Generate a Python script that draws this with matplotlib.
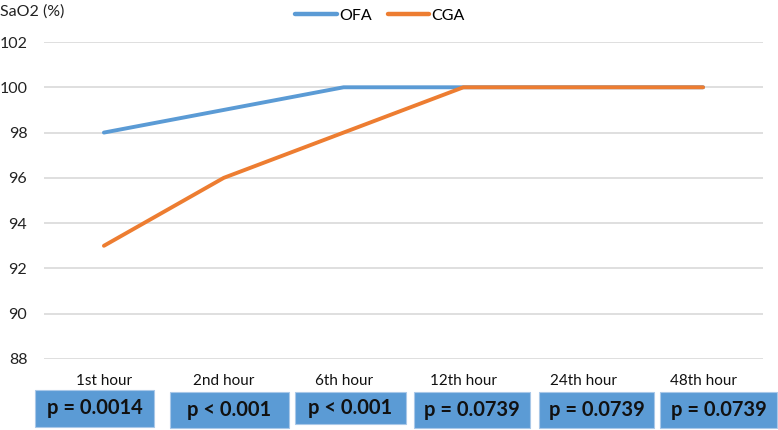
import matplotlib
matplotlib.use("Agg")
import matplotlib.pyplot as plt
from matplotlib.patches import Rectangle

categories = ["1st hour", "2nd hour", "6th hour", "12th hour", "24th hour", "48th hour"]
ofa = [98, 99, 100, 100, 100, 100]
cga = [93, 96, 98, 100, 100, 100]
p_values = ["p = 0.0014", "p < 0.001", "p < 0.001", "p = 0.0739", "p = 0.0739", "p = 0.0739"]
yticks = [88, 90, 92, 94, 96, 98, 100, 102]

plt.rcParams['font.family'] = ['Lato', 'DejaVu Sans']

W, H = 778, 430
fig = plt.figure(figsize=(W / 100, H / 100), dpi=100)
left, right, top, bottom = 44, 763, 42, 359
ax = fig.add_axes([left / W, 1 - bottom / H, (right - left) / W, (bottom - top) / H])

x = list(range(len(categories)))
ax.plot(x, ofa, color="#5B9BD5", lw=2.8, label="OFA", solid_capstyle="round")
ax.plot(x, cga, color="#ED7D31", lw=2.8, label="CGA", solid_capstyle="round")

ax.set_xlim(-0.5, len(categories) - 0.5)
ax.set_ylim(88, 102)
ax.set_yticks(yticks)
ax.set_yticklabels([str(v) for v in yticks], fontsize=11.5, color="#222222")
ax.set_xticks(x)
ax.set_xticklabels(categories, fontsize=11, color="#111111")
ax.tick_params(axis="both", length=0)
ax.tick_params(axis="y", pad=12)
ax.tick_params(axis="x", pad=11)
ax.grid(axis="y", color="#D9D9D9", lw=1.2)
ax.set_axisbelow(True)
for s in ax.spines.values():
    s.set_visible(False)

fig.text(0 / W, 1 - 12 / H, "SaO2 (%)", fontsize=11.5, color="#222222", va="center", ha="left")

leg = ax.legend(loc="center", bbox_to_anchor=(380 / W, 1 - 16 / H), bbox_transform=fig.transFigure,
                ncol=2, frameon=False, fontsize=11.5, handlelength=2.6, handletextpad=0.15,
                columnspacing=1.0, borderaxespad=0)
for line in leg.get_lines():
    line.set_linewidth(3.2)

boxes = [(35, 154, 390, 427), (170, 289, 392, 428), (295, 406, 392, 424),
         (414, 530, 392, 428), (539, 654, 392, 428), (660, 777, 392, 428)]
for (x0, x1, y0, y1), txt in zip(boxes, p_values):
    fig.patches.append(Rectangle((x0 / W, 1 - y1 / H), (x1 - x0) / W, (y1 - y0) / H,
                                 transform=fig.transFigure, facecolor="#5B9BD5",
                                 edgecolor="#A9C8E8", lw=0.8))
    fig.text((x0 + x1) / 2 / W, 1 - (y0 + y1) / 2 / H, txt, fontsize=14.5, fontweight="bold",
             ha="center", va="center", color="#111111")

fig.savefig("out.png", dpi=100)
